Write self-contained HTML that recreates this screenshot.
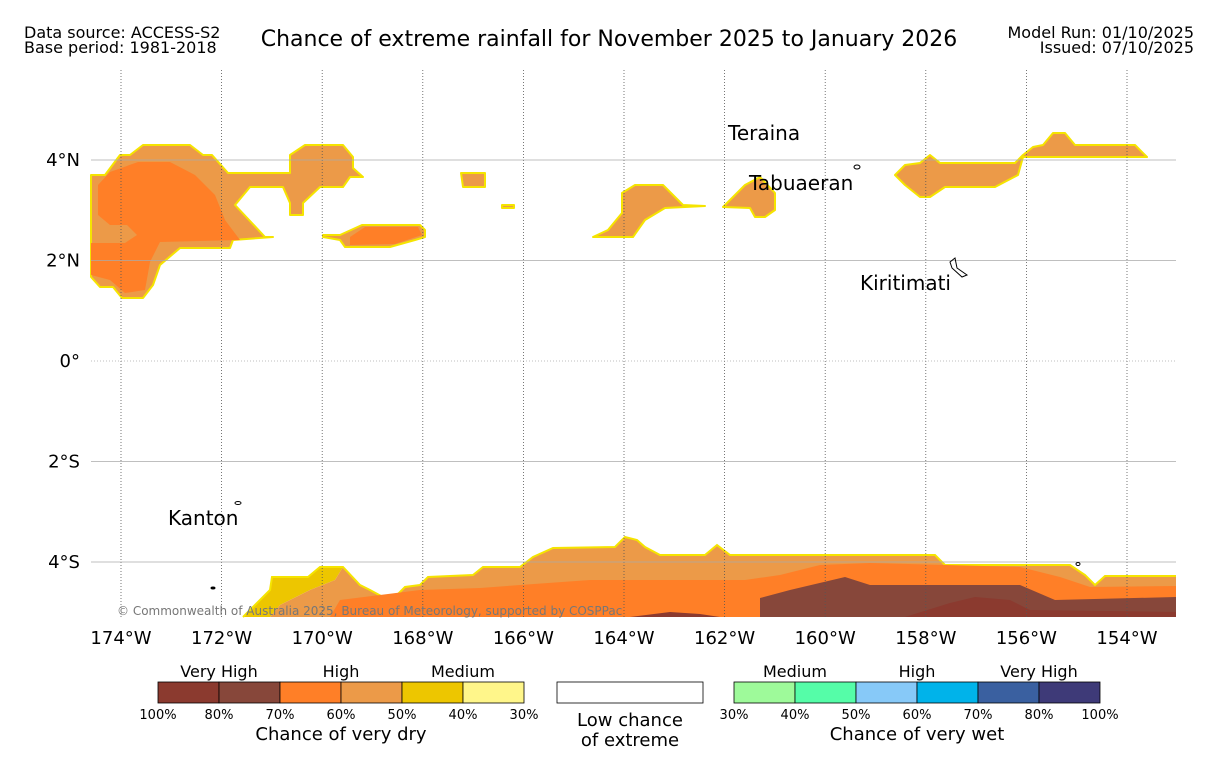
<!DOCTYPE html>
<html><head><meta charset="utf-8"><style>
body{margin:0;background:#fff;font-family:"Liberation Sans","DejaVu Sans",sans-serif;}
svg text{font-family:"DejaVu Sans","Liberation Sans",sans-serif;}
</style></head><body>
<svg id="chart" width="1219" height="758" viewBox="0 0 1219 758" xmlns="http://www.w3.org/2000/svg">
<text x="24" y="38" font-size="16">Data source: ACCESS-S2</text>
<text x="24" y="53" font-size="16">Base period: 1981-2018</text>
<text x="609" y="46" font-size="22" text-anchor="middle">Chance of extreme rainfall for November 2025 to January 2026</text>
<text x="1194" y="38" font-size="16" text-anchor="end">Model Run: 01/10/2025</text>
<text x="1194" y="53" font-size="16" text-anchor="end">Issued: 07/10/2025</text>
<g id="map">
<g stroke="#f5e400" stroke-width="2" stroke-linejoin="round">
<path fill="#EC9A48" d="M91,175 L105,175 L120,155 L130,155 L143,145 L190,145 L203,155 L212,155 L228,173 L290,173 L290,155 L305,145 L343,145 L353,157 L353,168 L363,177 L350,177 L343,187 L320,187 L303,203 L303,215 L290,215 L290,203 L283,187 L250,187 L235,205 L265,237 L273,237 L233,240 L230,248 L180,248 L160,265 L153,285 L143,298 L122,298 L113,287 L100,287 L91,277 Z"/>
<path fill="#EC9A48" d="M323,235 L340,235 L362,225 L420,225 L425,230 L425,237 L415,240 L390,247 L345,247 L340,240 L323,237 Z"/>
<path fill="#EC9A48" d="M461,173 L485,173 L485,187 L463,187 Z"/>
<path fill="#EC9A48" d="M502,205 L514,205 L514,208 L502,208 Z"/>
<path fill="#EC9A48" d="M593,237 L608,230 L622,213 L622,193 L635,185 L663,185 L683,205 L705,206 L665,208 L645,220 L633,237 Z"/>
<path fill="#EC9A48" d="M723,207 L745,185 L760,177 L775,193 L775,210 L765,217 L755,217 L750,208 Z"/>
<path fill="#EC9A48" d="M895,175 L905,165 L920,163 L930,155 L940,163 L1015,163 L1023,155 L1033,147 L1043,145 L1053,133 L1065,133 L1075,145 L1135,145 L1147,157 L1023,157 L1018,175 L995,187 L945,187 L930,197 L920,197 L905,185 Z"/>
</g>
<g fill="#FF7F27">
<path d="M98,185 L110,172 L138,162 L170,162 L195,175 L215,195 L225,220 L240,240 L160,242 L150,262 L145,290 L125,293 L110,280 L91,275 L91,243 L125,243 L137,235 L127,225 L110,225 L98,215 Z"/>
<path d="M350,237 L365,227 L418,227 L422,235 L395,244 L350,245 Z"/>
</g>
<g>
<path fill="#EDC600" d="M243,617 L255,605 L270,590 L272,577 L308,577 L320,567 L343,567 L335,580 L310,590 L280,605 L270,617 Z"/>
<path fill="#EC9A48" d="M270,617 L280,605 L310,590 L335,580 L343,567 L360,585 L370,590 L383,597 L395,597 L405,587 L420,585 L428,577 L473,575 L483,567 L520,567 L533,557 L553,548 L615,547 L625,537 L637,540 L645,547 L660,555 L705,555 L717,545 L730,555 L935,555 L945,565 L1070,565 L1085,575 L1095,585 L1105,576 L1176,576 L1176,617 Z"/>
<polyline fill="none" stroke="#f5e400" stroke-width="2" points="243,617 255,605 270,590 272,577 308,577 320,567 343,567 360,585 370,590 383,597 395,597 405,587 420,585 428,577 473,575 483,567 520,567 533,557 553,548 615,547 625,537 637,540 645,547 660,555 705,555 717,545 730,555 935,555 945,565 1070,565 1085,575 1095,585 1105,576 1176,576"/>
<path fill="#FF7F27" d="M330,617 L340,600 L420,590 L480,588 L520,585 L590,580 L745,580 L780,575 L820,565 L870,563 L1020,567 L1060,577 L1090,587 L1176,586 L1176,617 Z"/>
<path fill="#87473A" d="M760,617 L760,598 L790,590 L845,577 L870,585 L1020,585 L1055,600 L1176,597 L1176,617 Z"/>
<path fill="#8B3A2F" d="M905,617 L950,603 L975,597 L1010,600 L1030,610 L1176,612 L1176,617 Z"/>
<path fill="#8B3A2F" d="M630,617 L670,612 L700,614 L720,617 Z"/>
</g>
<g id="grid"></g>
<g fill="none" stroke="#000" stroke-width="1">
<ellipse cx="857" cy="167" rx="3" ry="2"/>
<path d="M950,262 L955,258 L957,268 L967,275 L962,277 L952,268 Z"/>
<ellipse cx="238" cy="503" rx="3" ry="1.5"/>
<ellipse cx="213" cy="588" rx="2" ry="1" fill="#000"/>
<ellipse cx="1078" cy="564" rx="2" ry="1.5"/>
</g>
<g font-size="20">
<text x="728" y="140">Teraina</text>
<text x="749" y="190">Tabuaeran</text>
<text x="860" y="290">Kiritimati</text>
<text x="168" y="525">Kanton</text>
</g>
<text x="117" y="615" font-size="12" fill="#777">© Commonwealth of Australia 2025, Bureau of Meteorology, supported by COSPPac</text>
</g>
<g id="axes" font-size="18"></g>
<g id="legend" font-size="14"></g>
</svg>
<script>
const lonTicks=[174,172,170,168,166,164,162,160,158,156,154];
const latTicks=[4,2,0,-2,-4];
const dryColors=["#8B3A2F","#87473A","#FF7F27","#EC9A48","#EDC600","#FFF68A"];
const dryLabels=["100%","80%","70%","60%","50%","40%","30%"];
const wetColors=["#9EFA9A","#55FDA8","#87C9F8","#00B3EA","#3A60A0","#3E3A78"];
const wetLabels=["30%","40%","50%","60%","70%","80%","100%"];
const NS="http://www.w3.org/2000/svg";
const X0=91,X1=1176,Y0=60,Y1=617;
function xLon(w){return 121+(174-w)*50.3;}
function yLat(l){return 361-l*50.25;}
function mk(t,a,p){const e=document.createElementNS(NS,t);for(const k in a)e.setAttribute(k,a[k]);p.appendChild(e);return e;}
const grid=document.getElementById('grid'),axes=document.getElementById('axes'),lg=document.getElementById('legend');
lonTicks.forEach(w=>{const x=xLon(w);
const l=mk('line',{x1:x,x2:x,y1:Y0+10,y2:Y1,stroke:'#555','stroke-width':0.8,'stroke-dasharray':'1,2'},grid);


const t=mk('text',{x:x,y:644,'text-anchor':'middle'},axes);t.textContent=w+'°W';

});
latTicks.forEach(v=>{const y=yLat(v);
const l=mk('line',{x1:X0,x2:X1,y1:y,y2:y,stroke:'#aaa','stroke-width':0.8,'stroke-dasharray':v===0?'1,2':'none'},grid);


const t=mk('text',{x:80,y:y+6,'text-anchor':'end'},axes);t.textContent=v===0?'0°':Math.abs(v)+'°'+(v>0?'N':'S');

});
function bar(x0,colors,labels,name){
colors.forEach((c,i)=>{const r=mk('rect',{x:x0+i*61,y:682,width:61,height:21,fill:c,stroke:'#000','stroke-width':0.8},lg);

});
labels.forEach((s,i)=>{const t=mk('text',{x:x0+i*61,y:719,'text-anchor':'middle','font-size':13},lg);t.textContent=s;

});}
bar(158,dryColors,dryLabels,'dry-legend');
bar(734,wetColors,wetLabels,'wet-legend');
const wb=mk('rect',{x:557,y:682,width:146,height:21,fill:'#fff',stroke:'#000','stroke-width':0.8},lg);


[["Very High",219,677,16],["High",341,677,16],["Medium",463,677,16],["Medium",795,677,16],["High",917,677,16],["Very High",1039,677,16],
["Chance of very dry",341,740,18],["Chance of very wet",917,740,18],["Low chance",630,726,18],["of extreme",630,746,18]].forEach(a=>{
const t=mk('text',{x:a[1],y:a[2],'text-anchor':'middle','font-size':a[3]},lg);t.textContent=a[0];

});
</script>
</body></html>
